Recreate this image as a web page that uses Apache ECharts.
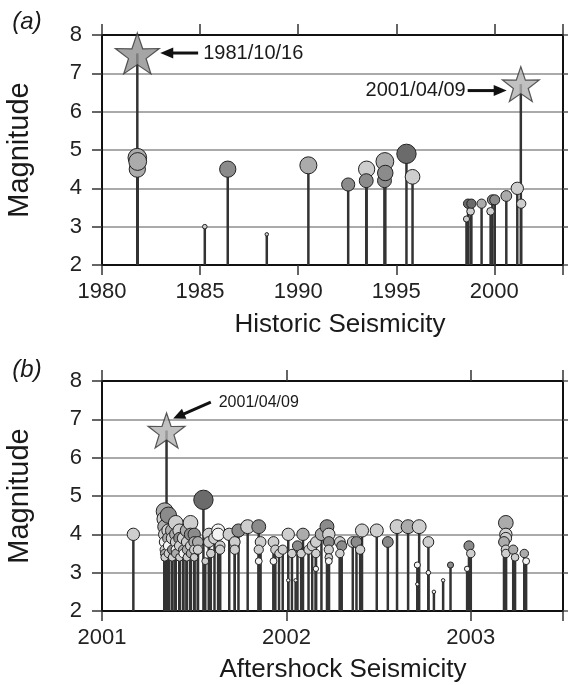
<!DOCTYPE html>
<html>
<head>
<meta charset="utf-8">
<script src="https://cdn.jsdelivr.net/npm/echarts@6/dist/echarts.min.js"></script>
<style>
html,body{margin:0;padding:0;background:#fff;}
#chart{width:568px;height:685px;}
</style>
</head>
<body>
<div id="chart"></div>
<script>
// ---------- Panel (a): historic seismicity ----------
const histYears = [1981.80, 1981.80, 1981.82, 1985.24, 1986.41, 1988.40, 1990.52, 1992.55, 1993.49, 1993.47,
                   1994.42, 1994.40, 1994.44, 1995.52, 1995.83, 1998.58, 1998.66, 1998.79, 1998.83, 1999.35,
                   1999.81, 1999.90, 2000.02, 2000.61, 2001.17, 2001.37];
const histMags  = [4.5, 4.8, 4.7, 3.0, 4.5, 2.8, 4.6, 4.1, 4.5, 4.2,
                   4.7, 4.2, 4.4, 4.9, 4.3, 3.2, 3.6, 3.4, 3.6, 3.6,
                   3.4, 3.7, 3.7, 3.8, 4.0, 3.6];
// grey level class of each event (0 = lightest ... 4 = darkest)
const histShade = [2, 2, 2, 1, 3, 1, 2, 3, 1, 3,
                   2, 3, 3, 4, 1, 1, 4, 1, 4, 2,
                   1, 3, 3, 2, 1, 1];
const histStarYears = [1981.80, 2001.35];
const histStarMags  = [7.52, 6.72];
const histTicks = [1980, 1985, 1990, 1995, 2000];

// ---------- Panel (b): aftershock seismicity ----------
const afterYears = [
  2001.17,
  2001.34, 2001.34, 2001.34, 2001.34, 2001.34, 2001.34, 2001.34, 2001.34,
  2001.36, 2001.36, 2001.36, 2001.36, 2001.36,
  2001.38, 2001.38, 2001.38, 2001.38,
  2001.40, 2001.40, 2001.40, 2001.40, 2001.40,
  2001.42, 2001.42, 2001.42, 2001.42,
  2001.44, 2001.44, 2001.44,
  2001.46, 2001.46, 2001.46, 2001.46,
  2001.48, 2001.48, 2001.48, 2001.48,
  2001.50, 2001.50, 2001.50, 2001.50,
  2001.52, 2001.52,
  2001.55, 2001.56, 2001.58, 2001.58, 2001.59, 2001.61,
  2001.63, 2001.63, 2001.64, 2001.64, 2001.69, 2001.72, 2001.72, 2001.74, 2001.79,
  2001.85, 2001.86, 2001.85, 2001.85, 2001.93, 2001.94, 2001.93, 2001.96, 2001.98,
  2002.01, 2002.01, 2002.03, 2002.05, 2002.06, 2002.09, 2002.08, 2002.12,
  2002.14, 2002.16, 2002.16, 2002.16, 2002.19,
  2002.22, 2002.23, 2002.23, 2002.23, 2002.23, 2002.23,
  2002.29, 2002.30, 2002.29, 2002.36, 2002.38, 2002.40, 2002.41, 2002.49, 2002.55,
  2002.60, 2002.66, 2002.72, 2002.71, 2002.71, 2002.77, 2002.77, 2002.80, 2002.85, 2002.89,
  2002.99, 2003.00, 2002.98,
  2003.19, 2003.19, 2003.19, 2003.18, 2003.19, 2003.19,
  2003.23, 2003.24, 2003.29, 2003.30
];
const afterMags = [
  4.0,
  4.6, 4.4, 4.2, 4.0, 3.8, 3.6, 3.5, 3.4,
  4.5, 4.1, 3.9, 3.7, 3.5,
  4.1, 3.9, 3.6, 3.4,
  4.3, 4.0, 3.8, 3.6, 3.5,
  4.1, 3.9, 3.7, 3.4,
  3.9, 3.6, 3.5,
  4.1, 3.8, 3.6, 3.4,
  4.3, 4.0, 3.7, 3.5,
  4.0, 3.8, 3.6, 3.4,
  3.8, 3.6,
  4.9, 3.3, 4.0, 3.8, 3.5, 3.9,
  4.1, 4.0, 3.7, 3.6, 4.0, 3.8, 3.6, 4.1, 4.2,
  4.2, 3.8, 3.6, 3.3, 3.8, 3.6, 3.3, 3.5, 3.6,
  4.0, 2.8, 3.5, 2.8, 3.7, 4.0, 3.5, 3.6,
  3.7, 3.8, 3.5, 3.1, 4.0,
  4.2, 4.0, 3.8, 3.6, 3.4, 3.3,
  3.8, 3.7, 3.5, 3.8, 3.8, 3.6, 4.1, 4.1, 3.8,
  4.2, 4.2, 4.2, 3.2, 2.7, 3.8, 3.0, 2.5, 2.8, 3.2,
  3.7, 3.5, 3.1,
  4.3, 4.0, 3.9, 3.8, 3.6, 3.5,
  3.6, 3.4, 3.5, 3.3
];
const afterShade = [
  1,
  2, 1, 2, 1, 0, 1, 2, 1,
  3, 1, 2, 0, 1,
  2, 1, 3, 1,
  1, 2, 1, 0, 2,
  1, 3, 1, 1,
  1, 2, 0,
  2, 1, 2, 1,
  1, 3, 1, 2,
  3, 2, 1, 1,
  2, 1,
  4, 1, 1, 1, 1, 1,
  0, 0, 1, 1, 1, 1, 1, 3, 1,
  3, 1, 1, 0, 1, 1, 0, 1, 1,
  1, 0, 1, 0, 3, 2, 1, 1,
  1, 1, 1, 0, 2,
  3, 1, 3, 1, 1, 0,
  1, 3, 1, 1, 3, 1, 1, 1, 3,
  1, 2, 1, 0, 0, 1, 0, 0, 0, 3,
  3, 1, 0,
  2, 1, 1, 2, 1, 1,
  2, 1, 2, 0
];
const afterStarYears = [2001.35];
const afterStarMags  = [6.71];
const afterTicks = [2001, 2002, 2003];

// ---------- presentation ----------
const FONT = "'Liberation Sans', Arial, Helvetica, sans-serif";
const SHADES = ['#f3f3f3', '#cecece', '#ababab', '#8b8b8b', '#6b6b6b'];
const STAR = 'path://M50,0 L61.8,35.1 L97.6,34.5 L69.1,56.7 L79.4,90.5 L50,70 L20.6,90.5 L30.9,56.7 L2.4,34.5 L38.2,35.1 Z';
function sizeOf(m) { return Math.max(3.5, 3 + (m - 2.8) * 7.8); }

function zip(xs, ys, ss) { return xs.map((x, i) => ss ? [x, ys[i], ss[i]] : [x, ys[i]]); }

const histPts = zip(histYears, histMags, histShade);
const afterPts = zip(afterYears, afterMags, afterShade);
const histStems = zip(histStarYears, histStarMags).concat(zip(histYears, histMags));
const afterStems = zip(afterStarYears, afterStarMags).concat(zip(afterYears, afterMags));

function stemRender(params, api) {
  const x = api.value(0), y = api.value(1);
  const p0 = api.coord([x, 2]);
  const p1 = api.coord([x, y]);
  return { type: 'line', shape: { x1: p0[0], y1: p0[1], x2: p1[0], y2: p1[1] },
           style: { stroke: '#333333', lineWidth: 2.5 } };
}

function xAxes(grid, min, max, interval, ticks) {
  const base = { gridIndex: grid, type: 'value', min: min, max: max, interval: interval,
                 splitLine: { show: false } };
  return [
    Object.assign({}, base, { position: 'bottom',
      axisLine: { show: true, onZero: false, lineStyle: { color: '#111', width: 2 } },
      axisTick: { show: true, inside: false, length: 10, lineStyle: { color: '#333', width: 1.5 } },
      axisLabel: { show: true, fontSize: 22, color: '#222', margin: 16, fontFamily: FONT,
                   formatter: v => (ticks.indexOf(v) >= 0 ? String(v) : '') } }),
    Object.assign({}, base, { position: 'top',
      axisLine: { show: true, onZero: false, lineStyle: { color: '#111', width: 2 } },
      axisTick: { show: true, inside: false, length: 11, lineStyle: { color: '#333', width: 1.5 } },
      axisLabel: { show: false } })
  ];
}
function yAxes(grid) {
  const base = { gridIndex: grid, type: 'value', min: 2, max: 8, interval: 1 };
  return [
    Object.assign({}, base, { position: 'left',
      axisLine: { show: true, onZero: false, lineStyle: { color: '#111', width: 2 } },
      axisTick: { show: true, inside: false, length: 10, lineStyle: { color: '#333', width: 1.5 } },
      axisLabel: { show: true, fontSize: 22, color: '#222', margin: 20, fontFamily: FONT },
      splitLine: { show: true, lineStyle: { color: '#8e8e8e', width: 1.5 } } }),
    Object.assign({}, base, { position: 'right',
      axisLine: { show: true, onZero: false, lineStyle: { color: '#111', width: 2 } },
      axisTick: { show: true, inside: false, length: 6, lineStyle: { color: '#555', width: 1.5 } },
      axisLabel: { show: false }, splitLine: { show: false } })
  ];
}

function circles(xi, yi, pts) {
  return { type: 'scatter', xAxisIndex: xi, yAxisIndex: yi, z: 3,
    data: pts, symbol: 'circle',
    symbolSize: v => sizeOf(v[1]),
    itemStyle: { color: p => SHADES[p.data[2]], borderColor: '#222', borderWidth: 1, opacity: 1 },
    emphasis: { disabled: true } };
}
function stars(xi, yi, xs, ys, sizes, colors) {
  return { type: 'scatter', xAxisIndex: xi, yAxisIndex: yi, z: 4, symbol: STAR,
    data: xs.map((x, i) => ({ value: [x, ys[i]], symbolSize: sizes[i],
                              itemStyle: { color: colors[i], borderColor: '#333', borderWidth: 1.2 } })),
    emphasis: { disabled: true } };
}

const chart = echarts.init(document.getElementById('chart'), null, { renderer: 'canvas' });
chart.setOption({
  animation: false,
  backgroundColor: '#fff',
  grid: [
    { left: 102, right: 5, top: 35, height: 230, show: true, borderColor: '#111', borderWidth: 2, backgroundColor: '#fff' },
    { left: 102, right: 5, top: 381, height: 230, show: true, borderColor: '#111', borderWidth: 2, backgroundColor: '#fff' }
  ],
  xAxis: xAxes(0, 1980, 2003.5, 5, histTicks).concat(xAxes(1, 2001, 2003.5, 1, afterTicks)),
  yAxis: yAxes(0).concat(yAxes(1)),
  series: [
    { type: 'custom', coordinateSystem: 'cartesian2d', xAxisIndex: 0, yAxisIndex: 0, z: 2,
      renderItem: stemRender, data: histStems, silent: true },
    circles(0, 0, histPts),
    stars(0, 0, histStarYears, histStarMags, [[44, 41], [37, 35]], ['#8e8e8e', '#b2b2b2']),
    { type: 'custom', coordinateSystem: 'cartesian2d', xAxisIndex: 2, yAxisIndex: 2, z: 2,
      renderItem: stemRender, data: afterStems, silent: true },
    circles(2, 2, afterPts),
    stars(2, 2, afterStarYears, afterStarMags, [[37, 35]], ['#b2b2b2'])
  ]
});

// ---------- annotations ----------
function px(seriesIndex, pt) { return chart.convertToPixel({ seriesIndex: seriesIndex }, pt); }
function arrow(tail, tip, w, head, hw) {
  const dx = tip[0] - tail[0], dy = tip[1] - tail[1];
  const L = Math.sqrt(dx * dx + dy * dy), ux = dx / L, uy = dy / L;
  const bx = tip[0] - ux * head, by = tip[1] - uy * head;
  return [
    { type: 'line', shape: { x1: tail[0], y1: tail[1], x2: bx + ux * 2, y2: by + uy * 2 },
      style: { stroke: '#111', lineWidth: w }, z: 10 },
    { type: 'polygon', shape: { points: [tip, [bx - uy * hw, by + ux * hw], [bx + uy * hw, by - ux * hw]] },
      style: { fill: '#111' }, z: 10 }
  ];
}
function text(x, y, s, size, opts) {
  return Object.assign({ type: 'text', x: x, y: y, z: 10,
    style: { text: s, fontSize: size, fontFamily: FONT, fill: '#1a1a1a',
             textAlign: 'left', textVerticalAlign: 'middle' } }, opts || {});
}

const a1Tip = px(2, [1982.97, 7.53]), a1Tail = px(2, [1984.90, 7.53]), a1Text = px(2, [1985.16, 7.53]);
const a2Tail = px(2, [1998.64, 6.55]), a2Tip = px(2, [2000.63, 6.55]), a2Text = px(2, [1998.54, 6.55]);
const b1Tail = px(5, [2001.59, 7.45]), b1Tip = px(5, [2001.386, 7.02]), b1Text = px(5, [2001.633, 7.43]);

const g = [];
g.push(...arrow(a1Tail, a1Tip, 3, 13, 5.5));
g.push(text(a1Text[0], a1Text[1], '1981/10/16', 20));
g.push(...arrow(a2Tail, a2Tip, 3, 13, 5.5));
const t2 = text(a2Text[0], a2Text[1], '2001/04/09', 20);
t2.style.textAlign = 'right';
g.push(t2);
g.push(...arrow(b1Tail, b1Tip, 3, 12, 5.5));
g.push(text(b1Text[0], b1Text[1], '2001/04/09', 16));

// panel letters, axis titles
g.push({ type: 'text', x: 27, y: 22, z: 10, style: { text: '(a)', fontSize: 24, fontStyle: 'italic', fontFamily: FONT, fill: '#1a1a1a', textAlign: 'center', textVerticalAlign: 'middle' } });
g.push({ type: 'text', x: 27, y: 370, z: 10, style: { text: '(b)', fontSize: 24, fontStyle: 'italic', fontFamily: FONT, fill: '#1a1a1a', textAlign: 'center', textVerticalAlign: 'middle' } });
g.push({ type: 'text', x: 20, y: 150, rotation: Math.PI / 2, z: 10, style: { text: 'Magnitude', fontSize: 29, fontFamily: FONT, fill: '#1a1a1a', textAlign: 'center', textVerticalAlign: 'middle' } });
g.push({ type: 'text', x: 20, y: 496, rotation: Math.PI / 2, z: 10, style: { text: 'Magnitude', fontSize: 29, fontFamily: FONT, fill: '#1a1a1a', textAlign: 'center', textVerticalAlign: 'middle' } });
g.push({ type: 'text', x: 340, y: 325, z: 10, style: { text: 'Historic Seismicity', fontSize: 26, fontFamily: FONT, fill: '#1a1a1a', textAlign: 'center', textVerticalAlign: 'middle' } });
g.push({ type: 'text', x: 343, y: 670, z: 10, style: { text: 'Aftershock Seismicity', fontSize: 26, fontFamily: FONT, fill: '#1a1a1a', textAlign: 'center', textVerticalAlign: 'middle' } });

chart.setOption({ graphic: { elements: g } });
</script>
</body>
</html>
